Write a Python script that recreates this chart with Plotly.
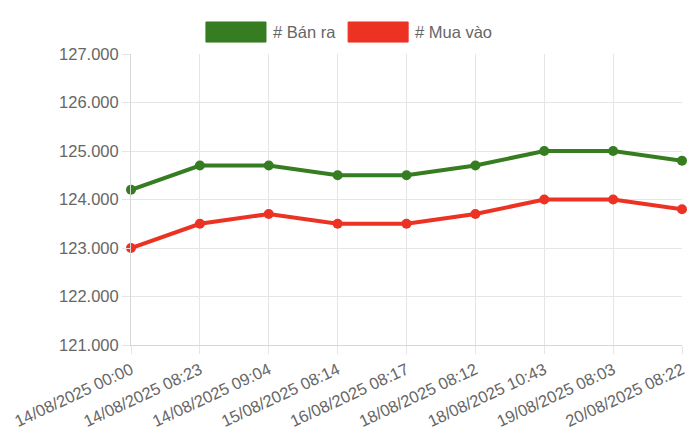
import plotly.graph_objects as go

# Data
thoi_gian = ["14/08/2025 00:00", "14/08/2025 08:23", "14/08/2025 09:04", "15/08/2025 08:14",
             "16/08/2025 08:17", "18/08/2025 08:12", "18/08/2025 10:43", "19/08/2025 08:03",
             "20/08/2025 08:22"]
ban_ra = [124200, 124700, 124700, 124500, 124500, 124700, 125000, 125000, 124800]
mua_vao = [123000, 123500, 123700, 123500, 123500, 123700, 124000, 124000, 123800]
y_ticks = [121000, 122000, 123000, 124000, 125000, 126000, 127000]

GREEN = "#367c21"
RED = "#ec3323"
GRID = "#e5e5e5"

fig = go.Figure()

fig.add_trace(go.Scatter(
    x=thoi_gian, y=ban_ra, name="# Bán ra", mode="lines+markers",
    line=dict(color=GREEN, width=4), marker=dict(color=GREEN, size=10),
    cliponaxis=False, showlegend=False
))
fig.add_trace(go.Scatter(
    x=thoi_gian, y=mua_vao, name="# Mua vào", mode="lines+markers",
    line=dict(color=RED, width=4), marker=dict(color=RED, size=10),
    cliponaxis=False, showlegend=False
))

# Chart.js-style legend: filled boxes + labels
for x0, x1, color, label in [(0.136, 0.245, GREEN, "# Bán ra"), (0.394, 0.503, RED, "# Mua vào")]:
    fig.add_shape(type="rect", xref="paper", yref="paper", x0=x0, x1=x1, y0=1.041, y1=1.110,
                  fillcolor=color, line=dict(color=color, width=1))
    fig.add_annotation(xref="paper", yref="paper", x=x1 + 0.009, y=1.0755, text=label,
                       showarrow=False, xanchor="left", yanchor="middle",
                       font=dict(size=16.5, color="#666666"))

# page body has an 8px margin, so the figure is offset by 8px
fig.update_layout(
    width=692, height=435,
    margin=dict(l=123, r=18, t=46, b=98),
    paper_bgcolor="white", plot_bgcolor="white",
    font=dict(family="Liberation Sans, Arial, sans-serif", size=16.5, color="#666666"),
    separators=",.",
    xaxis=dict(
        type="category", range=[0, len(thoi_gian) - 1], tickangle=-25, automargin=False,
        showgrid=True, gridcolor=GRID, gridwidth=1,
        showline=True, linecolor="#d6d6d6", linewidth=1,
        ticks="outside", ticklen=8, tickcolor=GRID, zeroline=False
    ),
    yaxis=dict(
        range=[121000, 127000], tickvals=y_ticks, tickformat=",d", automargin=False,
        showgrid=True, gridcolor=GRID, gridwidth=1,
        showline=True, linecolor="#d6d6d6", linewidth=1,
        ticks="outside", ticklen=8, tickcolor=GRID, zeroline=False
    ),
)

fig.write_html("out.html")
